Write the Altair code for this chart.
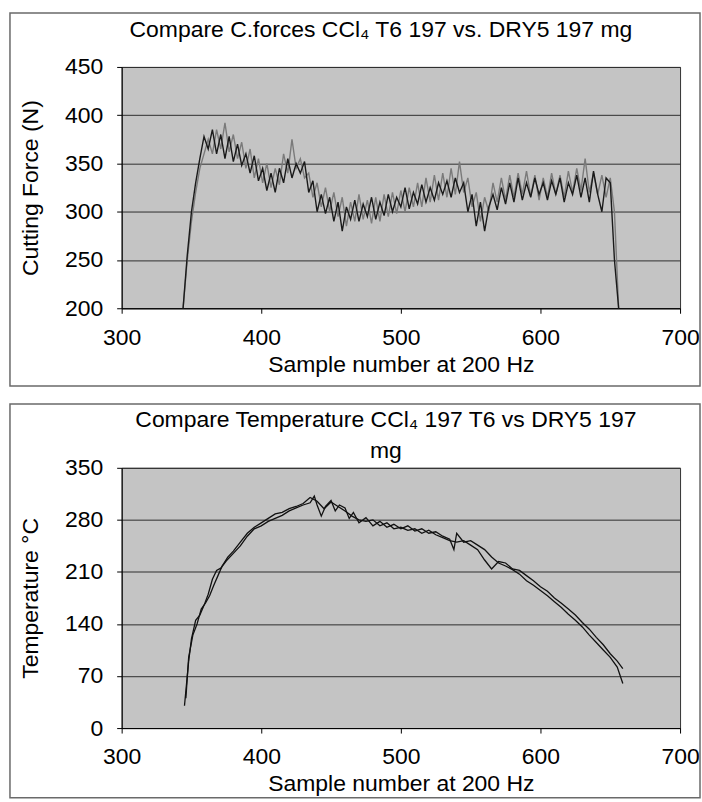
import altair as alt
import pandas as pd

FONT = "Liberation Sans"

# ---------------- data: cutting force (N) vs sample number ----------------
force_samples = list(range(344, 657, 3))
force_ccl4 = [200, 250, 290, 320, 345, 360, 375, 360, 385, 365,
              392, 362, 380, 355, 372, 345, 365, 335, 355, 330,
              350, 325, 345, 328, 360, 340, 375, 345, 355, 335,
              340, 315, 330, 305, 325, 300, 320, 295, 315, 285,
              310, 290, 318, 292, 312, 288, 315, 290, 318, 295,
              320, 298, 322, 300, 325, 305, 330, 305, 335, 310,
              338, 312, 340, 315, 345, 318, 352, 320, 335, 305,
              320, 290, 315, 300, 330, 310, 335, 312, 338, 315,
              340, 318, 342, 316, 338, 312, 335, 315, 340, 318,
              338, 315, 342, 320, 345, 322, 355, 320, 340, 318,
              338, 315, 335, 300, 200]
force_dry5 = [200, 255, 300, 330, 355, 378, 365, 385, 360, 380,
              355, 378, 352, 370, 348, 360, 340, 358, 332, 345,
              322, 340, 320, 345, 330, 355, 335, 350, 340, 352,
              320, 332, 300, 318, 298, 315, 290, 310, 280, 305,
              292, 312, 290, 308, 295, 315, 292, 310, 296, 318,
              300, 315, 305, 325, 303, 320, 308, 328, 310, 325,
              312, 330, 318, 332, 315, 335, 320, 330, 300, 318,
              285, 310, 280, 305, 318, 302, 325, 308, 330, 310,
              335, 312, 330, 315, 335, 318, 330, 312, 332, 318,
              335, 310, 330, 318, 338, 315, 335, 310, 342, 318,
              300, 335, 330, 250, 200]

# ---------------- data: temperature (°C) vs sample number ----------------
temp_samples_ccl4 = [345, 348, 350, 353, 356, 359, 362, 365, 368, 371,
                     375, 380, 385, 390, 395, 400, 405, 410, 415, 420,
                     425, 430, 435, 438, 440, 443, 446, 450, 453, 456,
                     460, 463, 466, 470, 475, 480, 485, 490, 495, 500,
                     505, 510, 515, 520, 525, 530, 535, 538, 540, 545,
                     550, 555, 560, 565, 570, 575, 580, 585, 590, 595,
                     600, 605, 610, 615, 620, 625, 630, 635, 640, 645,
                     650, 655, 659]
temp_ccl4 = [30, 90, 120, 145, 152, 165, 180, 200, 212, 215,
             225, 235, 245, 258, 268, 272, 278, 282, 286, 292,
             296, 300, 303, 312, 300, 285, 298, 306, 292, 300,
             296, 282, 290, 276, 283, 272, 278, 270, 274, 268,
             272, 265, 268, 262, 264, 258, 254, 240, 262, 250,
             252, 246, 240, 230, 222, 218, 213, 207, 198, 192,
             185, 178, 170, 162, 153, 145, 136, 125, 115, 105,
             95, 82, 60]
temp_samples_dry5 = [346, 348, 351, 354, 357, 360, 363, 366, 369, 372,
                     376, 380, 385, 390, 395, 400, 405, 410, 415, 420,
                     425, 430, 435, 440, 445, 450, 455, 460, 465, 470,
                     475, 480, 485, 490, 495, 500, 505, 510, 515, 520,
                     525, 530, 535, 540, 545, 550, 555, 560, 565, 570,
                     575, 580, 585, 590, 595, 600, 605, 610, 615, 620,
                     625, 630, 635, 640, 645, 650, 655, 659]
temp_dry5 = [40, 95, 125, 140, 160, 168, 178, 192, 205, 218,
             230, 238, 250, 262, 270, 276, 282, 288, 290, 295,
             298, 302, 310, 305, 295, 304, 298, 292, 285, 280,
             278, 280, 272, 276, 268, 270, 266, 268, 262, 266,
             260, 256, 252, 250, 252, 246, 240, 226, 214, 224,
             222, 214, 212, 205, 198, 190, 184, 175, 168, 160,
             152, 142, 133, 122, 112, 100, 90, 80]

x_ticks = [300, 400, 500, 600, 700]
force_ticks = [200, 250, 300, 350, 400, 450]
temp_ticks = [0, 70, 140, 210, 280, 350]

force_df = pd.DataFrame(
    [{"sample": s, "value": v, "series": "CCl4 T6 197"} for s, v in zip(force_samples, force_ccl4)]
    + [{"sample": s, "value": v, "series": "DRY5 197 mg"} for s, v in zip(force_samples, force_dry5)]
)
temp_df = pd.DataFrame(
    [{"sample": s, "value": v, "series": "CCl4 197 T6"} for s, v in zip(temp_samples_ccl4, temp_ccl4)]
    + [{"sample": s, "value": v, "series": "DRY5 197 mg"} for s, v in zip(temp_samples_dry5, temp_dry5)]
)
one_row = pd.DataFrame({"k": [0]})

PLOT_W = 560
FS = 23


def x_enc():
    return alt.X(
        "sample:Q",
        scale=alt.Scale(domain=[300, 700], nice=False),
        axis=alt.Axis(
            values=x_ticks, title="Sample number at 200 Hz", grid=False,
            tickSize=5, labelPadding=13, titlePadding=4, labelFlush=False,
            labelFontSize=FS, titleFontSize=FS, labelFont=FONT, titleFont=FONT,
            titleFontWeight="normal", labelColor="black", titleColor="black",
            domainColor="black", tickColor="black", labelOverlap=False,
        ),
    )


def y_enc(domain, ticks, title):
    return alt.Y(
        "value:Q",
        scale=alt.Scale(domain=domain, nice=False),
        axis=alt.Axis(
            values=ticks, title=title, grid=True, gridColor="#2e2e2e", gridWidth=1,
            tickSize=5, labelPadding=14, titlePadding=22,
            labelFontSize=FS, titleFontSize=FS, labelFont=FONT, titleFont=FONT,
            titleFontWeight="normal", labelColor="black", titleColor="black",
            domainColor="black", tickColor="black", labelOverlap=False,
        ),
    )


def frame(y_top, y_bottom):
    return alt.Chart(one_row).mark_rect(
        fillOpacity=0, stroke="#6a6a6a", strokeWidth=1.5
    ).encode(
        x=alt.value(-112), x2=alt.value(580), y=alt.value(y_top), y2=alt.value(y_bottom)
    )


# ---------------- panel 1: cutting force ----------------
f_base = alt.Chart(force_df)
f_grey = f_base.transform_filter(alt.datum.series == "CCl4 T6 197").mark_line(
    color="#7a7a7a", strokeWidth=1.4, clip=True
).encode(x=x_enc(), y=y_enc([200, 450], force_ticks, "Cutting Force (N)"))
f_black = f_base.transform_filter(alt.datum.series == "DRY5 197 mg").mark_line(
    color="#1a1a1a", strokeWidth=1.4, clip=True
).encode(x=x_enc(), y=y_enc([200, 450], force_ticks, "Cutting Force (N)"))

panel1 = alt.layer(frame(-54, 320), f_grey, f_black).properties(
    width=PLOT_W, height=242,
    title=alt.Title(
        "Compare C.forces CCl₄ T6 197 vs. DRY5 197 mg",
        font=FONT, fontSize=FS, fontWeight="normal", color="black",
        frame="group", anchor="middle", dx=-20, offset=-30,
    ),
)

# ---------------- panel 2: temperature ----------------
t_base = alt.Chart(temp_df)
t_a = t_base.transform_filter(alt.datum.series == "CCl4 197 T6").mark_line(
    color="#111111", strokeWidth=1.3, clip=True
).encode(x=x_enc(), y=y_enc([0, 350], temp_ticks, "Temperature °C"))
t_b = t_base.transform_filter(alt.datum.series == "DRY5 197 mg").mark_line(
    color="#111111", strokeWidth=1.3, clip=True
).encode(x=x_enc(), y=y_enc([0, 350], temp_ticks, "Temperature °C"))

panel2 = alt.layer(frame(-64, 331), t_a, t_b).properties(
    width=PLOT_W, height=261,
    title=alt.Title(
        ["Compare Temperature CCl₄ 197 T6 vs DRY5 197", "mg"],
        font=FONT, fontSize=FS, fontWeight="normal", color="black",
        frame="group", anchor="middle", dx=-15, offset=-60, lineHeight=31,
    ),
)

chart = alt.vconcat(panel1, panel2, spacing=14).properties(
    padding={"left": 8, "top": 10, "right": 0, "bottom": 0},
    background="white",
).configure_view(
    fill="#c4c4c4", stroke="#333333", strokeWidth=1
)

chart.save("out.html", embed_options={"renderer": "svg", "actions": False})
